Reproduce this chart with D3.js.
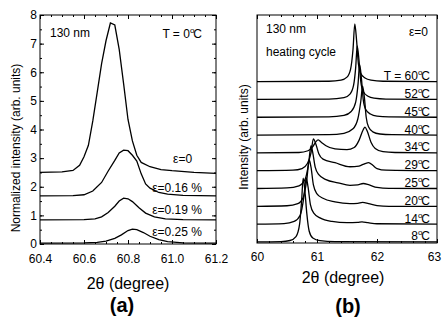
<!DOCTYPE html>
<html lang="en">
<head>
<meta charset="UTF-8">
<title>XRD peaks</title>
<script src="https://cdn.jsdelivr.net/npm/d3@7"></script>
<style>
    html, body { margin: 0; padding: 0; background: #fff; }
    svg { display: block; }
    text { font-family: 'Liberation Sans', Arial, Helvetica, sans-serif; fill: #000; }
</style>
</head>
<body>
<div id="chart"></div>
<script>
    // ---- panel (a): normalized intensity, T = 0 C, [2theta, intensity]
    const eps0 = [[60.40, 2.50], [60.50, 2.52], [60.55, 2.57], [60.58, 2.75], [60.60, 3.05], [60.62, 3.45],
        [60.64, 4.30], [60.66, 5.30], [60.68, 6.30], [60.70, 7.10], [60.72, 7.72], [60.74, 7.65],
        [60.76, 6.80], [60.78, 5.60], [60.80, 4.35], [60.82, 3.60], [60.84, 3.10], [60.86, 2.85],
        [60.90, 2.70], [60.95, 2.60], [61.00, 2.56], [61.10, 2.50], [61.20, 2.47]];
    const eps016 = [[60.40, 1.68], [60.55, 1.69], [60.60, 1.72], [60.64, 1.85], [60.68, 2.15], [60.71, 2.55],
        [60.74, 2.92], [60.76, 3.18], [60.78, 3.28], [60.80, 3.26], [60.82, 3.10], [60.84, 2.90],
        [60.86, 2.45], [60.88, 2.10], [60.90, 1.95], [60.94, 1.80], [60.98, 1.74], [61.05, 1.70], [61.20, 1.68]];
    const eps019 = [[60.40, 0.84], [60.60, 0.85], [60.65, 0.88], [60.68, 0.95], [60.71, 1.10], [60.74, 1.32],
        [60.76, 1.50], [60.78, 1.60], [60.80, 1.58], [60.82, 1.48], [60.85, 1.27], [60.88, 1.08],
        [60.92, 0.95], [60.97, 0.88], [61.05, 0.85], [61.20, 0.84]];
    const eps025 = [[60.40, 0.03], [60.60, 0.04], [60.66, 0.06], [60.70, 0.10], [60.74, 0.20], [60.77, 0.32],
        [60.80, 0.47], [60.82, 0.52], [60.84, 0.50], [60.87, 0.40], [60.90, 0.27], [60.94, 0.15],
        [60.98, 0.08], [61.05, 0.04], [61.20, 0.03]];
    const curvesA = [eps0, eps016, eps019, eps025];
    const epsLabels = ['ε=0', 'ε=0.16 %', 'ε=0.19 %', 'ε=0.25 %'];
    const epsLabelPos = [[61.005, 2.98], [60.91, 1.95], [60.91, 1.19], [60.91, 0.42]];
    const ticksA = [60.4, 60.6, 60.8, 61.0, 61.2];

    // ---- panel (b): heating cycle, height above own baseline
    const heat8 = [[60.00, 0], [60.40, 0.02], [60.55, 0.08], [60.65, 0.30], [60.71, 1.00], [60.745, 2.40],
        [60.77, 3.58], [60.80, 2.80], [60.83, 1.60], [60.87, 0.60], [60.93, 0.22], [61.05, 0.07],
        [61.30, 0.02], [63.00, 0]];
    const heat14 = [[60.00, 0], [60.45, 0.03], [60.62, 0.15], [60.72, 0.50], [60.78, 1.50], [60.82, 2.60],
        [60.85, 2.10], [60.89, 1.10], [60.95, 0.60], [61.05, 0.35], [61.25, 0.15], [61.50, 0.08],
        [61.68, 0.10], [61.75, 0.13], [61.85, 0.08], [62.00, 0.02], [63.00, 0]];
    const heat20 = [[60.00, 0], [60.50, 0.03], [60.68, 0.15], [60.77, 0.50], [60.83, 1.50], [60.87, 2.60],
        [60.90, 2.20], [60.94, 1.20], [61.00, 0.70], [61.10, 0.45], [61.30, 0.25], [61.55, 0.15],
        [61.68, 0.17], [61.76, 0.22], [61.86, 0.15], [62.00, 0.04], [62.20, 0], [63.00, 0]];
    const heat25 = [[60.00, 0], [60.50, 0.03], [60.70, 0.15], [60.80, 0.50], [60.86, 1.40], [60.90, 2.40],
        [60.93, 2.00], [60.97, 1.20], [61.03, 0.78], [61.15, 0.50], [61.35, 0.32], [61.55, 0.18],
        [61.68, 0.20], [61.77, 0.28], [61.87, 0.20], [62.00, 0.06], [62.20, 0.01], [63.00, 0]];
    const heat29 = [[60.00, 0], [60.60, 0.03], [60.75, 0.12], [60.84, 0.40], [60.90, 1.00], [60.94, 1.79],
        [60.98, 1.50], [61.03, 0.95], [61.10, 0.65], [61.30, 0.45], [61.55, 0.22], [61.70, 0.26],
        [61.80, 0.40], [61.86, 0.45], [61.93, 0.30], [62.00, 0.12], [62.15, 0.03], [63.00, 0]];
    const heat34 = [[60.00, 0], [60.70, 0.02], [60.85, 0.12], [60.93, 0.35], [60.98, 0.62], [61.02, 0.73],
        [61.07, 0.60], [61.15, 0.40], [61.30, 0.22], [61.50, 0.18], [61.62, 0.30], [61.70, 0.70],
        [61.77, 1.30], [61.80, 1.45], [61.84, 1.20], [61.90, 0.60], [61.97, 0.25], [62.10, 0.07],
        [62.30, 0.02], [63.00, 0]];
    const heat40 = [[60.00, 0], [61.20, 0.02], [61.45, 0.10], [61.60, 0.35], [61.68, 0.90], [61.73, 1.90],
        [61.76, 2.74], [61.79, 2.10], [61.82, 1.00], [61.86, 0.45], [61.93, 0.18], [62.05, 0.06],
        [62.25, 0.02], [63.00, 0]];
    const heat45 = [[60.00, 0], [61.20, 0.02], [61.45, 0.10], [61.57, 0.32], [61.645, 0.85], [61.685, 1.90],
        [61.71, 2.96], [61.74, 2.20], [61.77, 1.00], [61.81, 0.45], [61.89, 0.18], [62.00, 0.06],
        [62.20, 0.02], [63.00, 0]];
    const heat52 = [[60.00, 0], [61.20, 0.02], [61.45, 0.10], [61.55, 0.30], [61.61, 0.80], [61.645, 1.80],
        [61.67, 3.00], [61.70, 2.20], [61.73, 1.00], [61.77, 0.45], [61.85, 0.18], [61.95, 0.07],
        [62.15, 0.02], [63.00, 0]];
    const heat60 = [[60.00, 0], [61.20, 0.02], [61.40, 0.08], [61.50, 0.25], [61.56, 0.70], [61.60, 1.80],
        [61.63, 3.24], [61.66, 2.30], [61.69, 1.00], [61.73, 0.45], [61.80, 0.20], [61.90, 0.08],
        [62.10, 0.02], [63.00, 0]];
    const curvesB = [heat8, heat14, heat20, heat25, heat29, heat34, heat40, heat45, heat52, heat60];
    const tempLabels = ['8', '14', '20', '25', '29', '34', '40', '45', '52', 'T = 60'];
    const baselines = [0.06, 1.06, 2.06, 3.06, 4.06, 5.06, 6.06, 7.06, 8.06, 9.06];
    const ticksB = [60, 61, 62, 63];

    const width = 442, height = 320;
    const svg = d3.select('#chart').append('svg')
        .attr('width', width)
        .attr('height', height);

    const xA = d3.scaleLinear().domain([60.4, 61.2]).range([40, 216]);
    const yA = d3.scaleLinear().domain([0, 8]).range([244, 15]);
    const xB = d3.scaleLinear().domain([60, 63]).range([257, 437]);
    const yB = d3.scaleLinear().domain([0, 12.8]).range([243, 15]);

    function addDegree(sel) {
        // small raised "o" before C, as in the original figure
        sel.append('tspan').attr('font-size', 8).attr('dy', -5).text('o');
        sel.append('tspan').attr('dy', 5).attr('dx', -1).text('C');
    }

    function styleAxis(g) {
        g.select('.domain').remove();
        g.selectAll('line').attr('stroke', '#000');
        g.selectAll('text').attr('font-size', 12).attr('fill', '#000');
    }

    // ---------- panel (a)
    const gA = svg.append('g');

    gA.append('g').attr('transform', 'translate(0,244)')
        .call(d3.axisBottom(xA).tickValues(d3.range(60.4, 61.2001, 0.05)).tickSize(-2).tickFormat(''))
        .call(styleAxis);
    gA.append('g').attr('transform', 'translate(0,244)')
        .call(d3.axisBottom(xA).tickValues(ticksA).tickSize(-4).tickPadding(10).tickFormat(d3.format('.1f')))
        .call(styleAxis);
    gA.append('g').attr('transform', 'translate(0,15)')
        .call(d3.axisTop(xA).tickValues(d3.range(60.4, 61.2001, 0.05)).tickSize(-2).tickFormat(''))
        .call(styleAxis);
    gA.append('g').attr('transform', 'translate(0,15)')
        .call(d3.axisTop(xA).tickValues(ticksA).tickSize(-4).tickFormat(''))
        .call(styleAxis);
    gA.append('g').attr('transform', 'translate(40,0)')
        .call(d3.axisLeft(yA).tickValues(d3.range(0, 8.01, 0.5)).tickSize(-2).tickFormat(''))
        .call(styleAxis);
    gA.append('g').attr('transform', 'translate(40,0)')
        .call(d3.axisLeft(yA).ticks(8).tickSize(-4).tickPadding(3))
        .call(styleAxis);
    gA.append('g').attr('transform', 'translate(216,0)')
        .call(d3.axisRight(yA).tickValues(d3.range(0, 8.01, 0.5)).tickSize(-2).tickFormat(''))
        .call(styleAxis);
    gA.append('g').attr('transform', 'translate(216,0)')
        .call(d3.axisRight(yA).ticks(8).tickSize(-4).tickFormat(''))
        .call(styleAxis);

    gA.append('rect')
        .attr('x', 40).attr('y', 15)
        .attr('width', 176).attr('height', 229)
        .attr('fill', 'none').attr('stroke', '#000').attr('stroke-width', 1);

    const lineA = d3.line().x(d => xA(d[0])).y(d => yA(d[1]));
    gA.selectAll('path.curve')
        .data(curvesA)
        .join('path')
        .attr('class', 'curve')
        .attr('d', lineA)
        .attr('fill', 'none')
        .attr('stroke', '#000')
        .attr('stroke-width', 1.3);

    gA.selectAll('text.eps')
        .data(epsLabels)
        .join('text')
        .attr('class', 'eps')
        .attr('x', (d, i) => xA(epsLabelPos[i][0]))
        .attr('y', (d, i) => yA(epsLabelPos[i][1]))
        .attr('font-size', 12)
        .attr('dominant-baseline', 'central')
        .text(d => d);

    gA.append('text').attr('x', 50).attr('y', 33)
        .attr('font-size', 12).attr('dominant-baseline', 'central').text('130 nm');
    gA.append('text').attr('x', 202).attr('y', 38)
        .attr('font-size', 12).attr('text-anchor', 'end')
        .call(t => { t.append('tspan').text('T = 0'); addDegree(t); });

    gA.append('text')
        .attr('transform', 'translate(16,148) rotate(-90)')
        .attr('text-anchor', 'middle').attr('dominant-baseline', 'central')
        .attr('font-size', 12)
        .text('Normalized intensity (arb. units)');
    gA.append('text').attr('x', 128).attr('y', 283)
        .attr('text-anchor', 'middle').attr('dominant-baseline', 'central')
        .attr('font-size', 16).text('2θ (degree)');
    gA.append('text').attr('x', 122).attr('y', 305)
        .attr('text-anchor', 'middle').attr('dominant-baseline', 'central')
        .attr('font-size', 20).attr('font-weight', 'bold').text('(a)');

    // ---------- panel (b)
    const gB = svg.append('g');

    gB.append('g').attr('transform', 'translate(0,243)')
        .call(d3.axisBottom(xB).tickValues(d3.range(60, 63.001, 0.2)).tickSize(-2).tickFormat(''))
        .call(styleAxis);
    gB.append('g').attr('transform', 'translate(0,243)')
        .call(d3.axisBottom(xB).tickValues(ticksB).tickSize(-4).tickPadding(9).tickFormat(d3.format('d')))
        .call(styleAxis)
        .call(g => g.selectAll('text').filter(d => d === 63).attr('dx', -3));
    gB.append('g').attr('transform', 'translate(0,15)')
        .call(d3.axisTop(xB).tickValues(d3.range(60, 63.001, 0.2)).tickSize(-2).tickFormat(''))
        .call(styleAxis);
    gB.append('g').attr('transform', 'translate(0,15)')
        .call(d3.axisTop(xB).tickValues(ticksB).tickSize(-4).tickFormat(''))
        .call(styleAxis);

    gB.append('rect')
        .attr('x', 257).attr('y', 15)
        .attr('width', 180).attr('height', 228)
        .attr('fill', 'none').attr('stroke', '#000').attr('stroke-width', 1);

    const lineB = d3.line()
        .x(d => xB(d[0]))
        .y(d => d[1])
        .curve(d3.curveMonotoneX);
    gB.selectAll('path.curve')
        .data(curvesB)
        .join('path')
        .attr('class', 'curve')
        .attr('d', (c, i) => lineB(c.map(p => [p[0], yB(baselines[i] + p[1])])))
        .attr('fill', 'none')
        .attr('stroke', '#000')
        .attr('stroke-width', 1.3);

    gB.selectAll('text.temp')
        .data(tempLabels)
        .join('text')
        .attr('class', 'temp')
        .attr('x', 430)
        .attr('y', (d, i) => yB(baselines[i]) - 1.5)
        .attr('font-size', 12)
        .attr('text-anchor', 'end')
        .each(function (d) {
            const t = d3.select(this);
            t.append('tspan').text(d);
            addDegree(t);
        });

    gB.append('text').attr('x', 266).attr('y', 29)
        .attr('font-size', 12).attr('dominant-baseline', 'central').text('130 nm');
    gB.append('text').attr('x', 266).attr('y', 52)
        .attr('font-size', 12).attr('dominant-baseline', 'central').text('heating cycle');
    gB.append('text').attr('x', 428).attr('y', 32)
        .attr('font-size', 12).attr('text-anchor', 'end').attr('dominant-baseline', 'central').text('ε=0');

    gB.append('text')
        .attr('transform', 'translate(244,137) rotate(-90)')
        .attr('text-anchor', 'middle').attr('dominant-baseline', 'central')
        .attr('font-size', 12)
        .text('Intensity (arb. units)');
    gB.append('text').attr('x', 343).attr('y', 277)
        .attr('text-anchor', 'middle').attr('dominant-baseline', 'central')
        .attr('font-size', 16).text('2θ (degree)');
    gB.append('text').attr('x', 348).attr('y', 306)
        .attr('text-anchor', 'middle').attr('dominant-baseline', 'central')
        .attr('font-size', 20).attr('font-weight', 'bold').text('(b)');
</script>
</body>
</html>
